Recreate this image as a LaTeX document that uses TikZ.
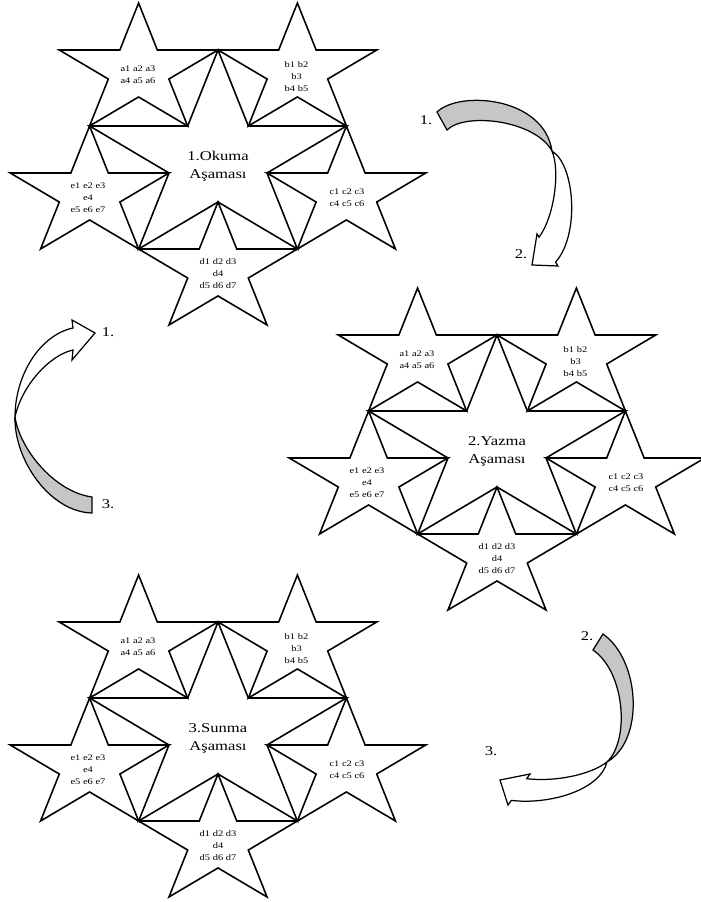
\documentclass[tikz,border=0pt]{standalone}
\usepackage{fontspec}
\setmainfont{Liberation Serif}
\tikzset{
  starline/.style={line width=0.45pt, line join=miter},
  arrowline/.style={line width=0.35pt, line join=miter},
  smalltext/.style={font=\fontsize{2.42pt}{3.41pt}\selectfont, align=center, inner sep=0pt, xscale=1.23},
  bigtext/.style={font=\fontsize{3.84pt}{5.12pt}\selectfont, align=center, inner sep=0pt, xscale=1.23},
  lbl/.style={font=\fontsize{3.84pt}{5.12pt}\selectfont, inner sep=0pt, xscale=1.23},
}
% star outline: centre (#1,#2), vertical outer radius #3, horizontally stretched
\newcommand\drawstarat[3]{%
  \draw[starline] plot[samples at={0,1,...,9}, variable=\k]
    ({#1+1.2273*#3*ifthenelse(mod(\k,2)==0,1,0.381966)*cos(90+36*\k)},
     {#2+#3*ifthenelse(mod(\k,2)==0,1,0.381966)*sin(90+36*\k)}) -- cycle;}
% cluster: centre (#1,#2), prefix #3, title #4
\newcommand\drawclusterat[4]{%
  \drawstarat{#1}{#2}{110}
  \drawstarat{#1-79.4}{#2+89}{67.98}
  \drawstarat{#1+79.4}{#2+89}{67.98}
  \drawstarat{#1+128.4}{#2-34}{67.98}
  \drawstarat{#1}{#2-110}{67.98}
  \drawstarat{#1-128.4}{#2-34}{67.98}
  \node[bigtext] (#3title) at (#1,#2-6) {#4\\Aşaması};
  \node[smalltext] (#3a) at (#1-80,#2+85) {a1 a2 a3\\a4 a5 a6};
  \node[smalltext] (#3b) at (#1+78.5,#2+83) {b1 b2\\b3\\b4 b5};
  \node[smalltext] (#3c) at (#1+129,#2-38) {c1 c2 c3\\c4 c5 c6};
  \node[smalltext] (#3d) at (#1,#2-114) {d1 d2 d3\\d4\\d5 d6 d7};
  \node[smalltext] (#3e) at (#1-130,#2-38) {e1 e2 e3\\e4\\e5 e6 e7};
}
\begin{document}
\begin{tikzpicture}[x=0.1mm,y=0.1mm]
\useasboundingbox (0,0) rectangle (701,902);
\fill[white] (0,0) rectangle (701,902);

\drawclusterat{218}{742}{A}{1.Okuma}
\drawclusterat{497}{457}{B}{2.Yazma}
\drawclusterat{218}{170}{C}{3.Sunma}

% arrow 1 (cluster 1 -> cluster 2)
\coordinate (p1t1) at (437,790);
\coordinate (p1t2) at (447,772);
\coordinate (p1x) at (552,751);
\coordinate (p1n1) at (539.1,664.8);
\coordinate (p1b1) at (537,668);
\coordinate (p1tip) at (532,637);
\coordinate (p1b2) at (558,636);
\coordinate (p1n2) at (555.5,639.8);
\filldraw[arrowline, fill=gray!45] (p1t1) .. controls (460,812) and (544,805) .. (p1x)
  .. controls (535,782) and (465,790) .. (p1t2) -- cycle;
\filldraw[arrowline, fill=white] (p1x) .. controls (560,732) and (555,687) .. (p1n1)
  -- (p1b1) -- (p1tip) -- (p1b2) -- (p1n2) .. controls (580,667) and (575,737) .. (p1x) -- cycle;
\node[lbl] (l1a) at (426,782) {1.};
\node[lbl] (l1b) at (521,648) {2.};

% arrow 2 (left, 3 -> 1)
\coordinate (p2nt) at (73,574);
\coordinate (p2nb) at (73,552);
\coordinate (p2x) at (15,485);
\coordinate (p2hb) at (72,542);
\coordinate (p2tip) at (95,569);
\coordinate (p2ht) at (72,582);
\coordinate (p2tb) at (92,389);
\coordinate (p2tt) at (92,405);
\filldraw[arrowline, fill=white] (p2nt) .. controls (40,567) and (15,527) .. (p2x)
  .. controls (22,517) and (50,547) .. (p2nb) -- (p2hb) -- (p2tip) -- (p2ht) -- cycle;
\filldraw[arrowline, fill=gray!45] (p2x) .. controls (14,442) and (50,390) .. (p2tb)
  -- (p2tt) .. controls (55,410) and (20,452) .. (p2x) -- cycle;
\node[lbl] (l2a) at (108,570) {1.};
\node[lbl] (l2b) at (108,398) {3.};

% arrow 3 (bottom right, 2 -> 3)
\coordinate (p3tr) at (603,268);
\coordinate (p3tl) at (593,252);
\coordinate (p3x) at (607,140);
\coordinate (p3n1) at (526.7,123.3);
\coordinate (p3bt) at (530,128);
\coordinate (p3tip) at (500,122);
\coordinate (p3bb) at (508,97);
\coordinate (p3n2) at (511.3,101.6);
\filldraw[arrowline, fill=gray!45] (p3tr) .. controls (640,242) and (645,162) .. (p3x)
  .. controls (630,162) and (625,230) .. (p3tl) -- cycle;
\filldraw[arrowline, fill=white] (p3x) .. controls (590,127) and (555,120) .. (p3n1)
  -- (p3bt) -- (p3tip) -- (p3bb) -- (p3n2) .. controls (550,97) and (600,112) .. (p3x) -- cycle;
\node[lbl] (l3a) at (587,266) {2.};
\node[lbl] (l3b) at (491,151) {3.};
\end{tikzpicture}
\end{document}
